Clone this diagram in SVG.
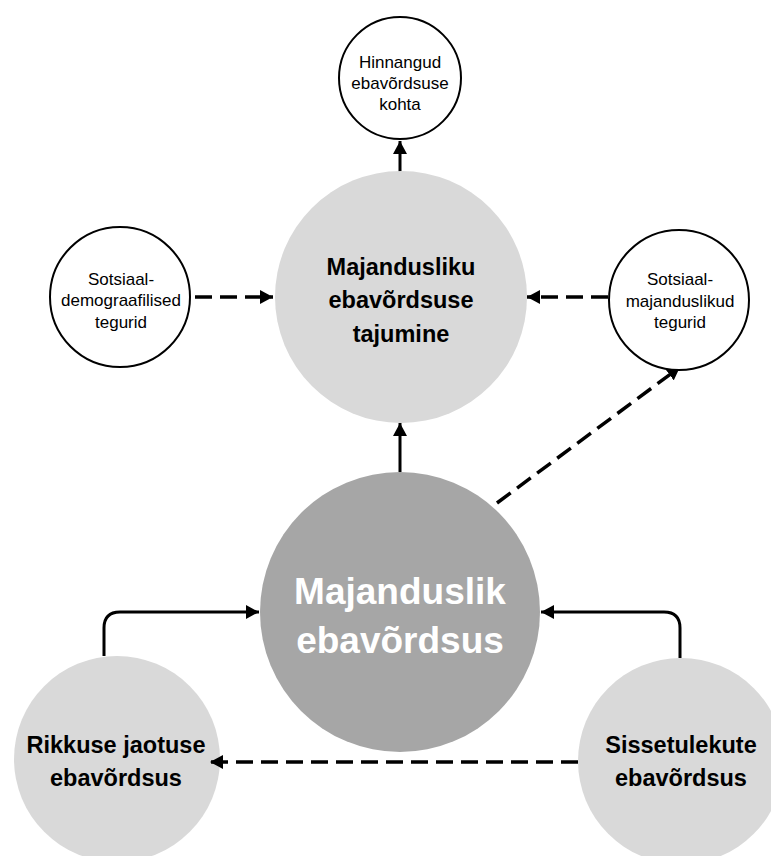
<svg xmlns="http://www.w3.org/2000/svg" width="771" height="856" viewBox="0 0 771 856">
<style>
.light{fill:#d9d9d9}
.dark{fill:#a6a6a6}
.outline{fill:#ffffff;stroke:#000000;stroke-width:2}
.small{font-family:"Liberation Sans",Arial,sans-serif;font-size:17px;fill:#000000;text-anchor:middle}
.bold{font-family:"Liberation Sans",Arial,sans-serif;font-weight:bold;font-size:23.5px;fill:#000000;text-anchor:middle}
.big{font-family:"Liberation Sans",Arial,sans-serif;font-weight:bold;font-size:37px;fill:#ffffff;text-anchor:middle}
.solid{fill:none;stroke:#000000;stroke-width:3}
.dash{fill:none;stroke:#000000;stroke-width:3.5;stroke-dasharray:17 8}
</style>
<defs>
<marker id="arr" markerUnits="userSpaceOnUse" markerWidth="14" markerHeight="14" refX="13" refY="7" orient="auto">
<path d="M0,0 L13,7 L0,14 z" fill="#000000"/>
</marker>
</defs>
<rect width="771" height="856" fill="#ffffff"/>
<g id="connectors">
<line class="solid" x1="400" y1="172" x2="400" y2="141" marker-end="url(#arr)"/>
<line class="solid" x1="400" y1="472" x2="400" y2="423" marker-end="url(#arr)"/>
<line class="dash" x1="195" y1="297" x2="273" y2="297" marker-end="url(#arr)"/>
<line class="dash" x1="608" y1="297" x2="527" y2="297" marker-end="url(#arr)"/>
<line class="dash" x1="497" y1="503" x2="680" y2="367" marker-end="url(#arr)"/>
<path class="solid" d="M104,656 V628 Q104,612 120,612 H259" marker-end="url(#arr)"/>
<path class="solid" d="M680,658 V628 Q680,612 664,612 H541" marker-end="url(#arr)"/>
</g>
<g id="n-hinnangud">
<circle class="outline" cx="400" cy="78" r="61"/>
<text class="small" x="400" y="68">Hinnangud</text>
<text class="small" x="400" y="89">ebavõrdsuse</text>
<text class="small" x="400" y="110">kohta</text>
</g>
<g id="n-tajumine">
<circle class="light" cx="401" cy="297" r="126"/>
<text class="bold" x="401" y="275">Majandusliku</text>
<text class="bold" x="401" y="308">ebavõrdsuse</text>
<text class="bold" x="401" y="342">tajumine</text>
</g>
<g id="n-sotsdem">
<circle class="outline" cx="120" cy="297" r="70"/>
<text class="small" x="121" y="285">Sotsiaal-</text>
<text class="small" x="121" y="306">demograafilised</text>
<text class="small" x="121" y="328">tegurid</text>
</g>
<g id="n-sotsmaj">
<circle class="outline" cx="679" cy="300" r="70"/>
<text class="small" x="680" y="285">Sotsiaal-</text>
<text class="small" x="680" y="307">majanduslikud</text>
<text class="small" x="680" y="328">tegurid</text>
</g>
<g id="n-majanduslik">
<circle class="dark" cx="400" cy="612" r="140"/>
<text class="big" x="400" y="604">Majanduslik</text>
<text class="big" x="400" y="653">ebavõrdsus</text>
</g>
<g id="n-rikkus">
<circle class="light" cx="117" cy="759" r="103"/>
<text class="bold" x="116" y="753">Rikkuse jaotuse</text>
<text class="bold" x="116" y="786">ebavõrdsus</text>
</g>
<g id="n-sissetulek">
<circle class="light" cx="681" cy="761" r="103"/>
<text class="bold" x="681" y="753">Sissetulekute</text>
<text class="bold" x="681" y="786">ebavõrdsus</text>
</g>
<g id="connectors-front">
<line class="dash" x1="578" y1="762" x2="210" y2="762" marker-end="url(#arr)"/>
</g>
</svg>
